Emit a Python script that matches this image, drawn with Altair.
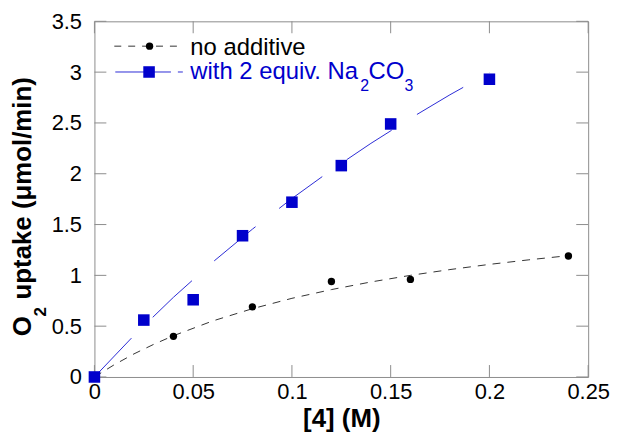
import altair as alt
import pandas as pd

# --- data ---
conc_no = [0, 0.04, 0.08, 0.12, 0.16, 0.24]
rate_no = [0, 0.40, 0.69, 0.94, 0.96, 1.19]
conc_na = [0, 0.025, 0.05, 0.075, 0.1, 0.125, 0.15, 0.2]
rate_na = [0, 0.56, 0.76, 1.39, 1.72, 2.08, 2.49, 2.93]

# fitted curves
fit_no_x = [0, 0.01, 0.02, 0.03, 0.04, 0.06, 0.08, 0.10, 0.12, 0.14, 0.16, 0.18, 0.20, 0.22, 0.24]
fit_no_y = [0, 0.12, 0.227, 0.321, 0.406, 0.552, 0.672, 0.774, 0.86, 0.935, 1.0, 1.057, 1.108, 1.153, 1.194]
fit_na_x = [0, 0.02, 0.04, 0.06, 0.08, 0.10, 0.12, 0.14, 0.16, 0.18, 0.20]
fit_na_y = [0, 0.408, 0.784, 1.132, 1.455, 1.756, 2.037, 2.299, 2.545, 2.777, 2.994]

x_ticks = [0, 0.05, 0.1, 0.15, 0.2, 0.25]
y_ticks = [0, 0.5, 1, 1.5, 2, 2.5, 3, 3.5]
legend_labels = ["no additive", "with 2 equiv. Na", "2", "CO", "3"]
y_title_parts = ["O", "2", "uptake (\u03bcmol/min)"]
x_title = "[4] (M)"

W, H = 497, 358
FONT = "Liberation Sans"
GRAY = "#8c8c8c"
BLUE = "#0000cc"
TICK = 12

xs = alt.Scale(domain=[0, 0.25], nice=False, zero=False)
ys = alt.Scale(domain=[0, 3.5], nice=False, zero=False)

x_axis = alt.Axis(values=x_ticks, format="~g", title=x_title, domain=False, ticks=False,
                  grid=False, labelFont=FONT, labelFontSize=22, labelColor="black",
                  labelPadding=5, labelFlush=False, labelOverlap=False,
                  titleFont=FONT, titleFontSize=26, titleFontWeight="bold", titleColor="black",
                  titleX=W / 2, titleY=50, titleBaseline="alphabetic", titleAlign="center")
y_axis = alt.Axis(values=y_ticks, format="~g", title=None, domain=False,
                  ticks=False, grid=False, labelFont=FONT, labelFontSize=22, labelColor="black",
                  labelPadding=13, labelFlush=False, labelOverlap=False)

X = alt.X("x:Q", scale=xs, axis=x_axis, title=x_title)
Y = alt.Y("y:Q", scale=ys, axis=y_axis, title=None)

df_no = pd.DataFrame({"x": conc_no, "y": rate_no})
df_na = pd.DataFrame({"x": conc_na, "y": rate_na})
df_fit_no = pd.DataFrame({"x": fit_no_x, "y": fit_no_y})
df_fit_na = pd.DataFrame({"x": fit_na_x, "y": fit_na_y})
df_xt = pd.DataFrame({"x": x_ticks})
df_yt = pd.DataFrame({"y": y_ticks})
one = pd.DataFrame({"k": [0]})

fit_no = alt.Chart(df_fit_no).mark_line(color="#333333", strokeWidth=1, strokeDash=[8, 7]).encode(x=X, y=Y)
fit_na = alt.Chart(df_fit_na).mark_line(color="#2b2bd6", strokeWidth=1, strokeDash=[54, 30]).encode(x=X, y=Y)
pts_no = alt.Chart(df_no).mark_point(shape="circle", filled=True, size=55, color="black", opacity=1).encode(x=X, y=Y)
pts_na = alt.Chart(df_na).mark_point(shape="square", filled=True, size=135, color=BLUE, opacity=1).encode(x=X, y=Y)

# inward ticks on all four sides
tk = dict(color=GRAY, strokeWidth=1)
t_bottom = alt.Chart(df_xt).mark_rule(**tk).encode(x=X, y=alt.value(H), y2=alt.value(H - TICK))
t_top = alt.Chart(df_xt).mark_rule(**tk).encode(x=X, y=alt.value(0), y2=alt.value(TICK))
t_left = alt.Chart(df_yt).mark_rule(**tk).encode(y=Y, x=alt.value(0), x2=alt.value(TICK))
t_right = alt.Chart(df_yt).mark_rule(**tk).encode(y=Y, x=alt.value(W), x2=alt.value(W - TICK))


def txt(s, x, y, size, color="black", weight="normal", angle=0):
    return alt.Chart(pd.DataFrame({"t": [s]})).mark_text(
        font=FONT, fontSize=size, fontWeight=weight, align="left", baseline="alphabetic",
        color=color, angle=angle).encode(x=alt.value(x), y=alt.value(y), text="t:N")


# y-axis title with a real subscript
yt_o = txt(y_title_parts[0], -64, 317, 26, weight="bold", angle=270)
yt_2 = txt(y_title_parts[1], -49, 297, 17, weight="bold", angle=270)
yt_rest = txt(y_title_parts[2], -64, 280, 26, weight="bold", angle=270)

# legend
leg1_line = alt.Chart(one).mark_rule(color="#333333", strokeWidth=1, strokeDash=[7, 7]).encode(
    x=alt.value(20), x2=alt.value(89), y=alt.value(25))
leg1_pt = alt.Chart(one).mark_point(shape="circle", filled=True, size=55, color="black", opacity=1).encode(
    x=alt.value(55.5), y=alt.value(25))
leg1_txt = txt(legend_labels[0], 96.5, 34, 24)
leg2_line = alt.Chart(one).mark_rule(color="#2b2bd6", strokeWidth=1, strokeDash=[56, 7]).encode(
    x=alt.value(21), x2=alt.value(89), y=alt.value(51))
leg2_pt = alt.Chart(one).mark_point(shape="square", filled=True, size=135, color=BLUE, opacity=1).encode(
    x=alt.value(55), y=alt.value(51))
leg2_a = txt(legend_labels[1], 96.5, 58, 24, color=BLUE)
leg2_b = txt(legend_labels[2], 267.5, 70, 16, color=BLUE)
leg2_c = txt(legend_labels[3], 276, 58, 24, color=BLUE)
leg2_d = txt(legend_labels[4], 312, 70, 16, color=BLUE)

chart = alt.layer(
    fit_no, fit_na, t_bottom, t_top, t_left, t_right, pts_no, pts_na,
    yt_o, yt_2, yt_rest,
    leg1_line, leg1_pt, leg1_txt, leg2_line, leg2_pt, leg2_a, leg2_b, leg2_c, leg2_d,
).properties(
    width=W, height=H,
    autosize=alt.AutoSizeParams(type="none"),
    padding={"left": 87, "top": 12, "right": 25, "bottom": 58},
).configure_view(stroke=GRAY, strokeWidth=1)

chart.save("out.html", embed_options={"renderer": "svg", "actions": False})
